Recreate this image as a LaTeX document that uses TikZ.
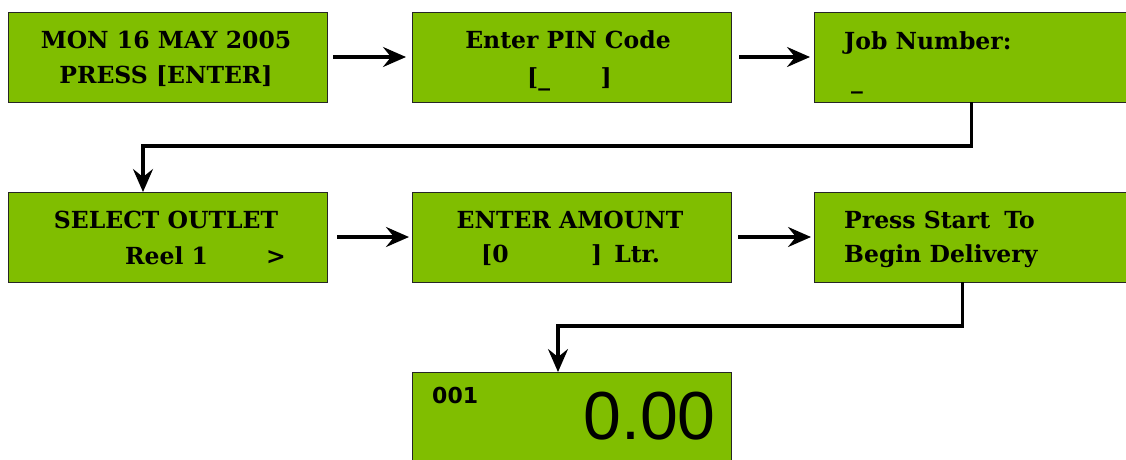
\documentclass[tikz,border=0pt]{standalone}
\usepackage{fontspec}
\setmainfont{DejaVu Serif}
\newfontfamily\lcdbig{Liberation Sans}
\newfontfamily\lcdsmall{DejaVu Sans}
\usetikzlibrary{arrows.meta}
\definecolor{lcdgreen}{RGB}{128,190,0}
\tikzset{
	lcd/.style={draw=black!85,line width=1pt,fill=lcdgreen,rectangle,anchor=north west,
		minimum width=319pt,minimum height=90pt,inner sep=0pt,outer sep=0pt},
	lcdtext/.style={inner sep=0pt,font=\fontsize{23.5}{27}\selectfont\bfseries},
	link/.style={line width=3.2pt,-{Stealth[length=23pt,width=20pt,inset=8pt]}}
}
\begin{document}
\begin{tikzpicture}[x=1pt,y=-1pt]
		\useasboundingbox (0,0) rectangle (1126,459);
		% first row
		\node[lcd] (date) at (8,12) {};
		\node[lcd] (pin) at (412,12) {};
		\node[lcd] (job) at (814,12) {};
		% second row
		\node[lcd] (outlet) at (8,192) {};
		\node[lcd] (amount) at (412,192) {};
		\node[lcd] (start) at (814,192) {};
		% display
		\node[lcd] (display) at (412,372) {};
		% texts
		\node[lcdtext,anchor=base] (t11) at (166,48) {MON 16 MAY 2005};
		\node[lcdtext,anchor=base] (t12) at (166,83) {PRESS [ENTER]};
		\node[lcdtext,anchor=base] (t21) at (568,48) {Enter PIN Code};
		\node[lcdtext,anchor=base west] (t22) at (527,85) {[\_};
		\node[lcdtext,anchor=base east] (t23) at (612,85) {]};
		\node[lcdtext,anchor=base west] (t31) at (844,49) {Job Number:};
		\node[lcdtext,anchor=base west] (t32) at (851,88) {\_};
		\node[lcdtext,anchor=base] (t41) at (166,228) {SELECT OUTLET};
		\node[lcdtext,anchor=base west] (t42) at (125,264) {Reel 1};
		\node[lcdtext,anchor=base west] (t43) at (266,264) {>};
		\node[lcdtext,anchor=base] (t51) at (570,228) {ENTER AMOUNT};
		\node[lcdtext,anchor=base west] (t52) at (481,262) {[0};
		\node[lcdtext,anchor=base west] (t53) at (591,262) {]\hspace{12pt}Ltr.};
		\node[lcdtext,anchor=base west] (t61) at (844,228) {Press Start\hspace{6pt} To};
		\node[lcdtext,anchor=base west] (t62) at (844,262) {Begin Delivery};
		\node[inner sep=0pt,anchor=base west,font=\lcdsmall\fontsize{22}{26}\selectfont\bfseries] (t71) at (432,403) {001};
		\node[inner sep=0pt,anchor=base east,font=\lcdbig\fontsize{68}{72}\selectfont] (t72) at (716,439) {0.00};
		% arrows
		\draw[link,shorten <=6pt,shorten >=6pt] (date) -- (pin);
		\draw[link,shorten <=8pt,shorten >=4pt] (pin) -- (job);
		\draw[link,shorten <=10pt,shorten >=3pt] (outlet) -- (amount);
		\draw[link,shorten <=7pt,shorten >=3pt] (amount) -- (start);
		\coordinate (bend1) at (143,146);
		\coordinate (bend2) at (558,326);
		\draw[link] ([xshift=-2pt]job.south) |- (bend1) -- (bend1 |- outlet.north);
		\draw[link] ([xshift=-11pt]start.south) |- (bend2) -- (bend2 |- display.north);
	\end{tikzpicture}
\end{document}
